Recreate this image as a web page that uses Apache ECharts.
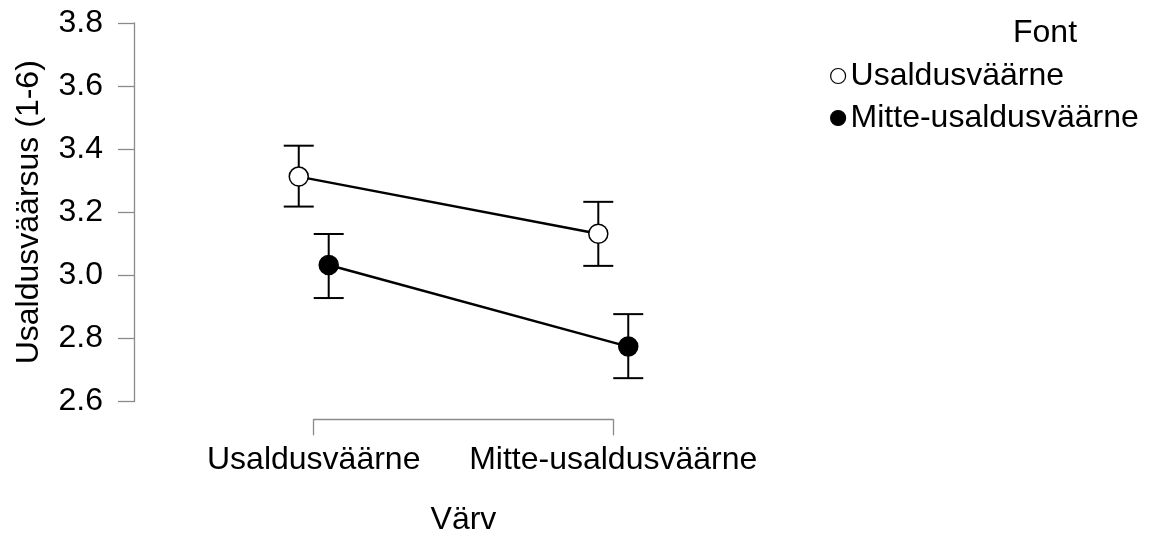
<!DOCTYPE html>
<html>
<head>
<meta charset="utf-8">
<script src="https://cdn.jsdelivr.net/npm/echarts@6/dist/echarts.min.js"></script>
<style>
html,body{margin:0;padding:0;background:#fff;}
#chart{width:1149px;height:535px;}
</style>
</head>
<body>
<div id="chart"></div>
<script>
// ---- data ----
var categories = ['Usaldusväärne', 'Mitte-usaldusväärne'];   // Värv
var fontLevels = ['Usaldusväärne', 'Mitte-usaldusväärne'];   // Font
var meanUsaldus = [3.313, 3.132];
var lowerUsaldus = [3.218, 3.030];
var upperUsaldus = [3.411, 3.233];
var meanMitte = [3.033, 2.774];
var lowerMitte = [2.928, 2.674];
var upperMitte = [3.131, 2.877];
var yTicks = [2.6, 2.8, 3.0, 3.2, 3.4, 3.6, 3.8];

// ---- build ----
var FONT = "'Liberation Sans', Arial, sans-serif";
var AXIS_GRAY = '#8a8a8a';
var dodge = [-0.05, 0.05];
var means = [meanUsaldus, meanMitte];
var lowers = [lowerUsaldus, lowerMitte];
var uppers = [upperUsaldus, upperMitte];
var fills = ['#ffffff', '#000000'];

var series = [];
fontLevels.forEach(function (name, s) {
  var barData = categories.map(function (c, i) {
    return [i + 1 + dodge[s], lowers[s][i], uppers[s][i]];
  });
  series.push({
    type: 'custom',
    name: name + ' CI',
    xAxisIndex: 0, yAxisIndex: 0,
    z: 1,
    silent: true,
    data: barData,
    renderItem: function (params, api) {
      var x = api.value(0);
      var lo = api.coord([x, api.value(1)]);
      var hi = api.coord([x, api.value(2)]);
      var hw = 15;
      var st = {stroke: '#000', lineWidth: 2};
      return {
        type: 'group',
        children: [
          {type: 'line', shape: {x1: lo[0], y1: lo[1], x2: hi[0], y2: hi[1]}, style: st},
          {type: 'line', shape: {x1: lo[0] - hw, y1: lo[1], x2: lo[0] + hw, y2: lo[1]}, style: st},
          {type: 'line', shape: {x1: hi[0] - hw, y1: hi[1], x2: hi[0] + hw, y2: hi[1]}, style: st}
        ]
      };
    }
  });
  series.push({
    type: 'line',
    name: name,
    xAxisIndex: 0, yAxisIndex: 0,
    z: 3,
    data: categories.map(function (c, i) { return [i + 1 + dodge[s], means[s][i]]; }),
    symbol: 'circle',
    symbolSize: 19,
    showSymbol: true,
    lineStyle: {color: '#000', width: 2.5},
    itemStyle: {color: fills[s], borderColor: '#000', borderWidth: 1.5},
    emphasis: {disabled: true}
  });
});

var option = {
  animation: false,
  backgroundColor: '#fff',
  textStyle: {fontFamily: FONT},
  title: {
    text: 'Font',
    left: 1013, top: 17, padding: 0,
    textStyle: {fontFamily: FONT, fontSize: 32, fontWeight: 'normal', color: '#000'}
  },
  legend: {
    orient: 'vertical',
    left: 830, top: 60,
    padding: 0,
    itemWidth: 15, itemHeight: 15,
    itemGap: 10,
    itemTextGap: 13,
    selectedMode: false,
    textStyle: {fontFamily: FONT, fontSize: 32, color: '#000'},
    data: [
      {name: fontLevels[0], icon: 'circle', itemStyle: {color: '#fff', borderColor: '#000', borderWidth: 1.2}},
      {name: fontLevels[1], icon: 'circle', itemStyle: {color: '#000', borderColor: '#000', borderWidth: 1.2}}
    ]
  },
  grid: [
    {left: 134, top: 23, width: 659, height: 378.5},
    {left: 313.7, top: 419, width: 299.5, height: 1.5}
  ],
  xAxis: [
    {type: 'value', gridIndex: 0, min: 0.4, max: 2.6, show: false},
    {
      type: 'category', gridIndex: 1, data: categories, boundaryGap: false,
      position: 'bottom',
      axisLine: {show: true, lineStyle: {color: AXIS_GRAY, width: 1.3}},
      axisTick: {show: true, length: 16, lineStyle: {color: AXIS_GRAY, width: 1.3}},
      axisLabel: {show: true, interval: 0, margin: 25, fontFamily: FONT, fontSize: 32, color: '#000'},
      splitLine: {show: false},
      name: 'Värv', nameLocation: 'middle', nameGap: 85,
      nameTextStyle: {fontFamily: FONT, fontSize: 32, color: '#000'}
    }
  ],
  yAxis: [
    {
      type: 'value', gridIndex: 0,
      min: yTicks[0], max: yTicks[yTicks.length - 1], interval: 0.2,
      axisLine: {show: true, onZero: false, lineStyle: {color: AXIS_GRAY, width: 1.3}},
      axisTick: {show: true, length: 16, lineStyle: {color: AXIS_GRAY, width: 1.3}},
      axisLabel: {show: true, margin: 31, fontFamily: FONT, fontSize: 32, color: '#000',
        formatter: function (v) { return v.toFixed(1); }},
      splitLine: {show: false},
      name: 'Usaldusväärsus (1-6)', nameLocation: 'middle', nameGap: 89,
      nameTextStyle: {fontFamily: FONT, fontSize: 32, color: '#000'}
    },
    {type: 'value', gridIndex: 1, show: false}
  ],
  series: series
};

var chart = echarts.init(document.getElementById('chart'), null, {renderer: 'canvas'});
chart.setOption(option);
</script>
</body>
</html>
